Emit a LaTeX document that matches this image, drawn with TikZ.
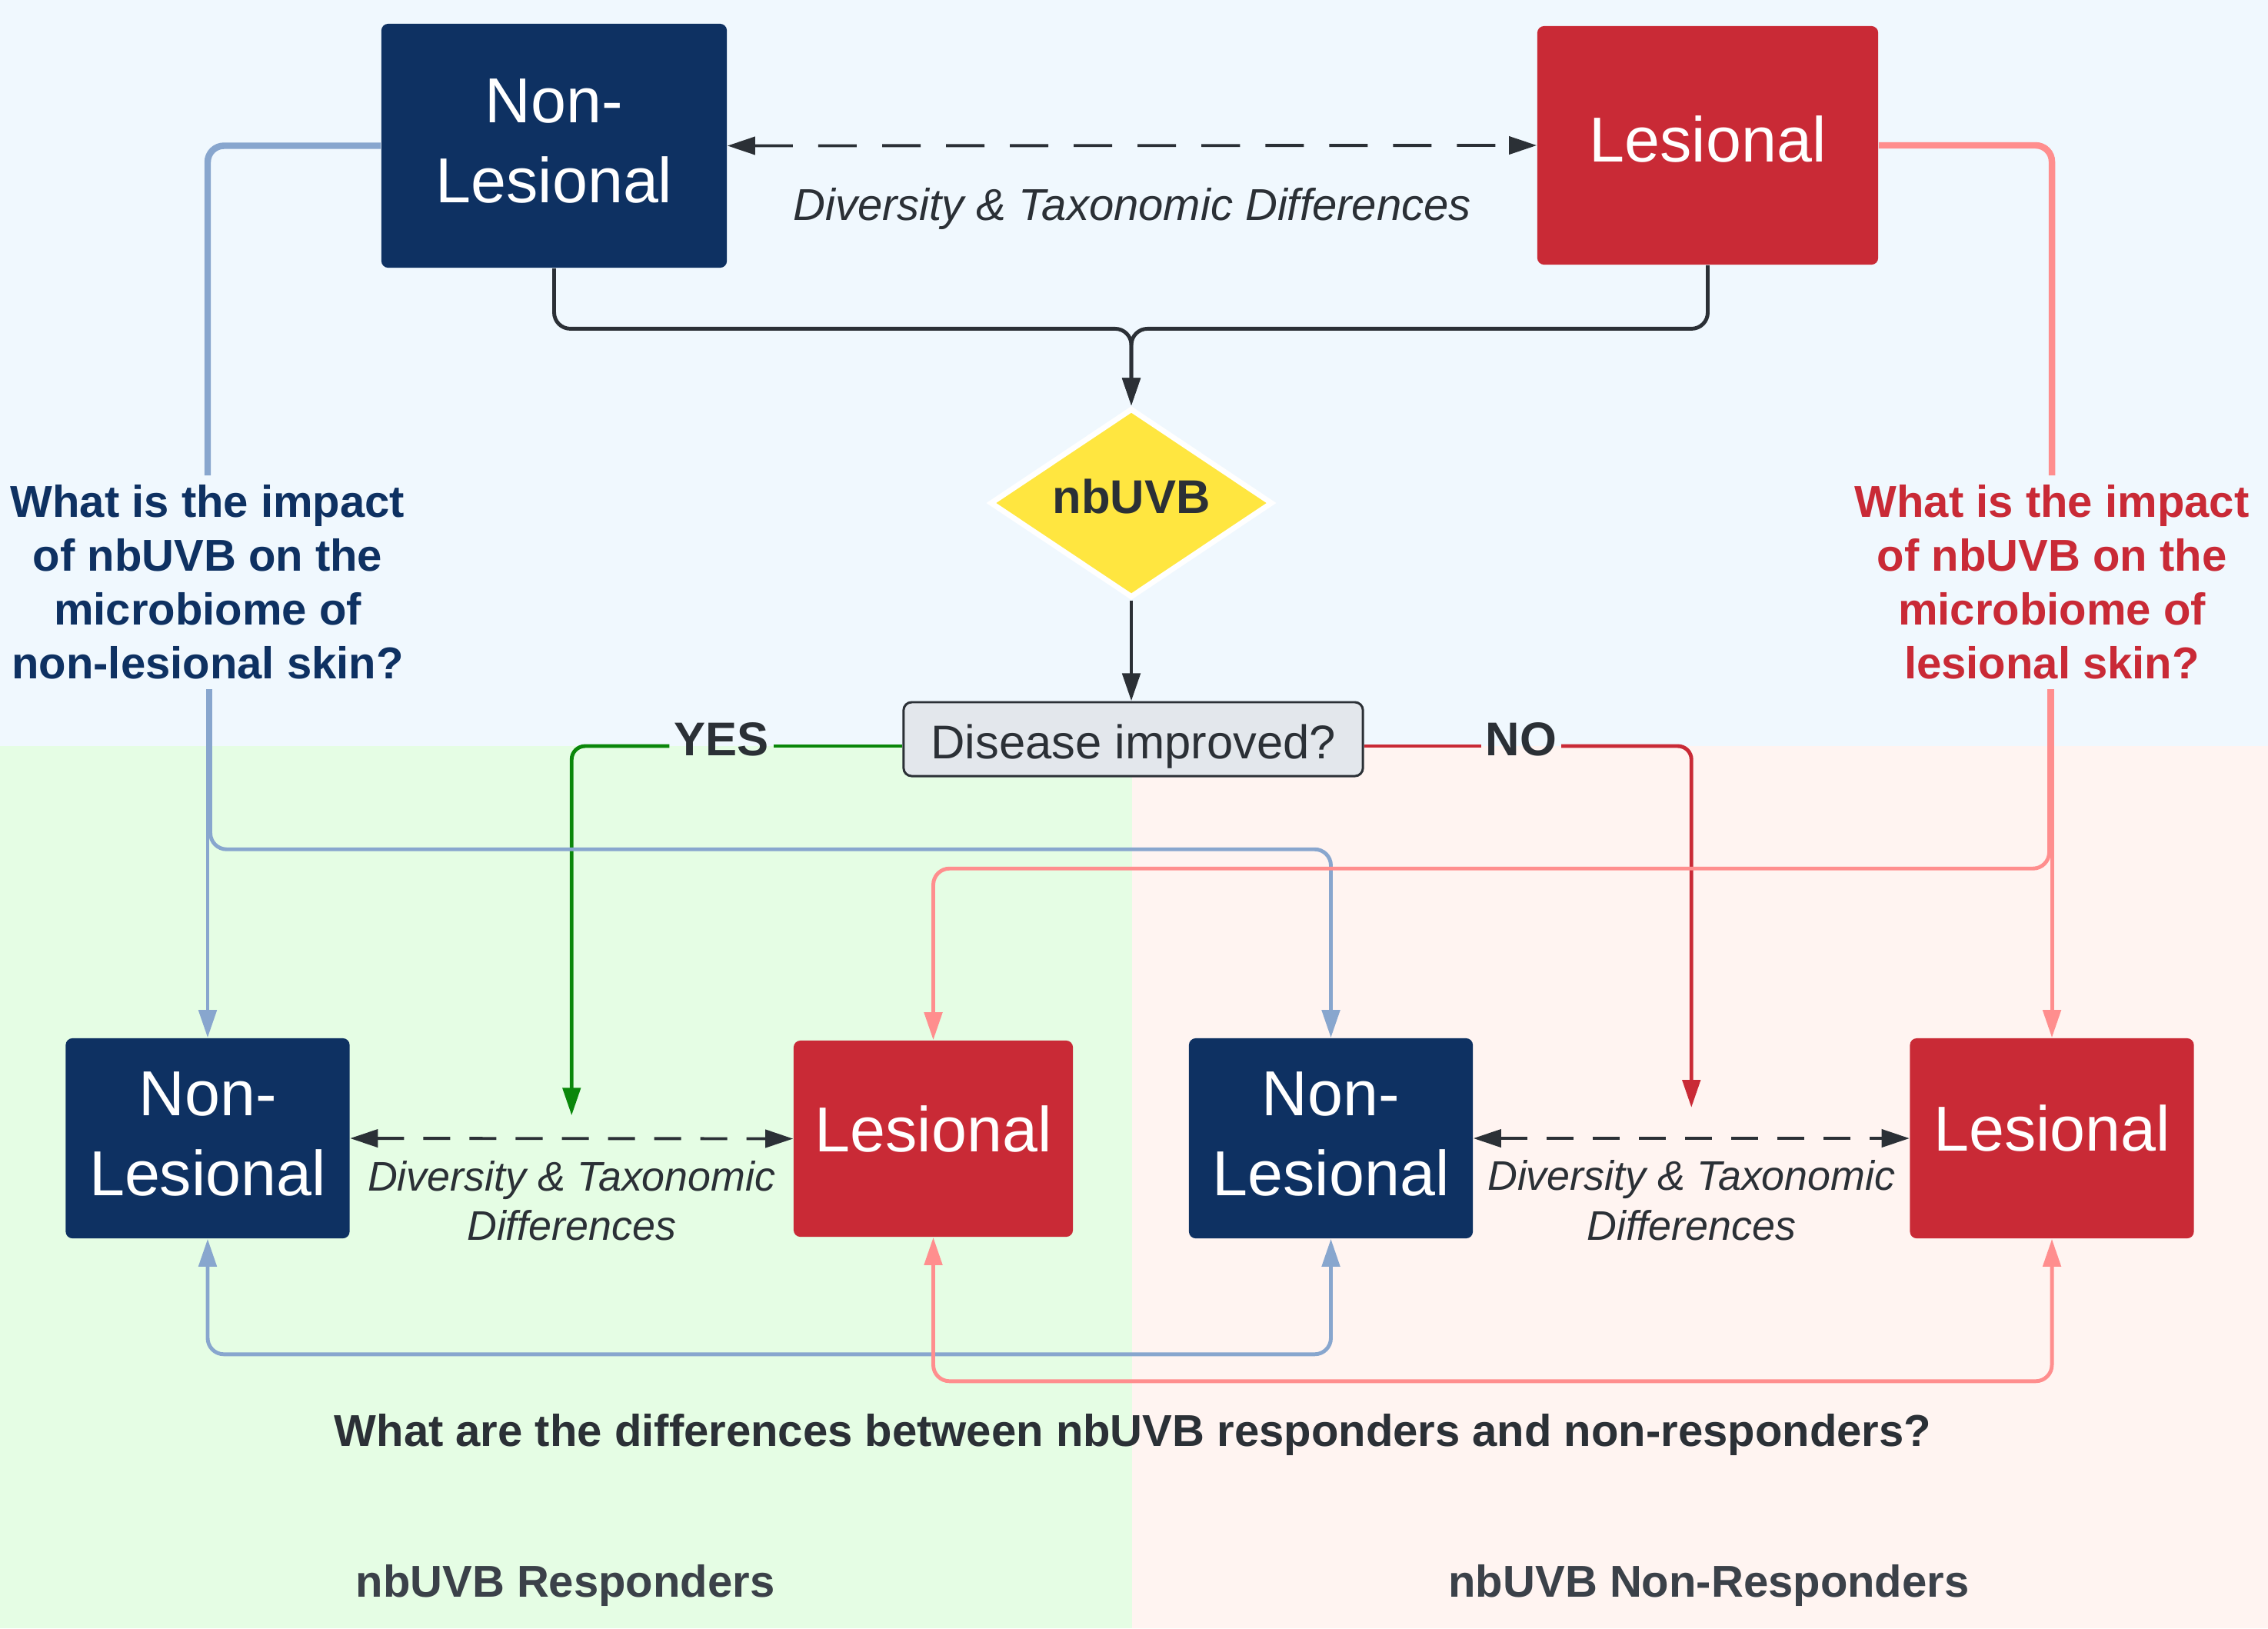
\documentclass[tikz,border=0pt]{standalone}
\usepackage{fontspec}
\setmainfont{Liberation Sans}
\usetikzlibrary{arrows.meta,positioning,calc,shapes.geometric}

\definecolor{bgtop}{HTML}{F0F8FE}
\definecolor{bgyes}{HTML}{E5FDE4}
\definecolor{bgno}{HTML}{FFF4F1}
\definecolor{navy}{HTML}{0E3162}
\definecolor{lesred}{HTML}{C92A36}
\definecolor{paleblue}{HTML}{88A6CE}
\definecolor{palered}{HTML}{FF8E8E}
\definecolor{yesgreen}{HTML}{0A870A}
\definecolor{ink}{HTML}{2B3036}
\definecolor{inkgray}{HTML}{3B4149}
\definecolor{qfill}{HTML}{E3E7EC}
\definecolor{sun}{HTML}{FFE640}

\begin{document}
\begin{tikzpicture}[x=0.01cm,y=-0.01cm,>={Triangle[length=0.36cm,width=0.23cm]},
    box/.style={rectangle,rounded corners=2.5pt,text=white,align=center,inner sep=0pt,
      text depth=3.5pt,font=\fontsize{23.5}{29.5}\selectfont},
    nlbox/.style={box,fill=navy},
    lbox/.style={box,fill=lesred},
    small/.style={minimum width=3.69cm,minimum height=2.6cm},
    uvb/.style={diamond,aspect=1.5,fill=sun,draw=white,line width=2pt,minimum width=3.67cm,
      minimum height=2.46cm,inner sep=0pt,text=ink,text depth=5pt,
      font=\bfseries\fontsize{17.5}{21}\selectfont},
    askbox/.style={rectangle,rounded corners=3pt,fill=qfill,draw=ink,line width=0.85pt,
      minimum width=5.97cm,minimum height=0.96cm,text=ink,text height=14.3pt,text depth=0pt,
      font=\fontsize{17.5}{21}\selectfont},
    question/.style={align=center,fill=bgtop,inner xsep=2pt,inner ysep=0.12cm,
      font=\bfseries\fontsize{16.5}{19.9}\selectfont},
    branch/.style={text=ink,inner sep=1.5pt,text height=12.5pt,text depth=5.6pt,
      font=\bfseries\fontsize{17.5}{21}\selectfont},
    diff/.style={text=ink,inner sep=0pt,align=center,font=\itshape\fontsize{16.5}{20}\selectfont},
    difflow/.style={diff,font=\itshape\fontsize{15.3}{18.4}\selectfont},
    caption/.style={text=ink,inner sep=0pt,font=\bfseries\fontsize{16.5}{20}\selectfont},
    group/.style={caption,text=inkgray},
    flow/.style={draw=ink,line width=1.4pt,rounded corners=6pt},
    topdash/.style={draw=ink,line width=1.1pt,dash pattern=on 0.5cm off 0.33cm},
    lowdash/.style={draw=ink,line width=1.1pt,dash pattern=on 0.35cm off 0.25cm},
    yesline/.style={draw=yesgreen,line width=1.4pt,rounded corners=5pt},
    noline/.style={draw=lesred,line width=1.4pt,rounded corners=5pt},
    blueline/.style={draw=paleblue,line width=1.4pt,rounded corners=6pt},
    pinkline/.style={draw=palered,line width=1.4pt,rounded corners=6pt}]

    % backgrounds
    \fill[bgtop] (0,0) rectangle (2949,970);
    \fill[bgyes] (0,970) rectangle (1472,2117);
    \fill[bgno] (1472,970) rectangle (2949,2117);

    % top row
    \node[nlbox,minimum width=4.49cm,minimum height=3.17cm] (ntop) at (720.5,189.5) {Non-\\Lesional};
    \node[lbox,minimum width=4.43cm,minimum height=3.1cm,text depth=4.8pt] (ltop) at (2220.5,189) {Lesional};
    \node[uvb]    (uvb) at (1471,654) {nbUVB};
    \node[askbox] (ask) at (1473.5,961) {Disease improved?};

    \node[question,text=navy]   (qnl) at (270,757) {What is the impact\\of nbUVB on the\\microbiome of\\non-lesional skin?};
    \node[question,text=lesred] (ql)  at (2668,757) {What is the impact\\of nbUVB on the\\microbiome of\\lesional skin?};

    % bottom row
    \node[nlbox,small] (nl1) at (270,1480) {Non-\\Lesional};
    \node[lbox,small,minimum width=3.63cm,minimum height=2.55cm,text depth=7.4pt] (l1) at (1213.5,1480.5) {Lesional};
    \node[nlbox,small] (nl2) at (1730.5,1480) {Non-\\Lesional};
    \node[lbox,small,text depth=7.4pt] (l2) at (2668,1480) {Lesional};

    \node[branch] (yes) at (938,970) {YES};
    \node[branch] (no)  at (1978,970) {NO};
    \coordinate (yesend) at ($(nl1.east)!0.5!(l1.west)+(0,-30)$);
    \coordinate (noend)  at ($(nl2.east)!0.5!(l2.west)+(0,-40)$);

    \node[caption,anchor=base] (qdiff) at (1473,1880) {What are the differences between nbUVB responders and non-responders?};
    \node[group,anchor=base] (gyes) at (735,2076) {nbUVB Responders};
    \node[group,anchor=base] (gno)  at (2222,2076) {nbUVB Non-Responders};

    % treatment
    \draw[flow,->] (ntop.south) |- ($(uvb.north)+(0,-100)$) -- (uvb.north);
    \draw[flow,->] (ltop.south) |- ($(uvb.north)+(0,-100)$) -- (uvb.north);
    \draw[flow,->] (uvb.south) -- (uvb.south |- ask.north);

    \path[<->]
    (ntop.east) edge[topdash] node[below=0.53cm,diff] {Diversity \& Taxonomic Differences} (ltop.west)
    (nl1.east)  edge[lowdash] node[below=0.27cm,difflow] {Diversity \& Taxonomic\\Differences} (l1.west)
    (nl2.east)  edge[lowdash] node[below=0.27cm,difflow] {Diversity \& Taxonomic\\Differences} (l2.west)
    ;

    \draw[yesline] (yes.east) -- (yes.east -| ask.west);
    \draw[yesline,->] (yes.west) -| (yesend);
    \draw[noline] (no.west) -- (no.west -| ask.east);
    \draw[noline,->] (no.east) -| (noend);

    % non-lesional skin
    \draw[blueline,line width=2.4pt] (ntop.west) -| (qnl.north);
    \draw[blueline,->] (qnl.south) -- (nl1.north);
    \draw[blueline,->] ([xshift=1pt]qnl.south) |- ($(nl2.north)+(0,-245)$) -- (nl2.north);
    \draw[blueline,<->] (nl1.south) -- ++(0,150) -| (nl2.south);

    % lesional skin
    \draw[pinkline,line width=2.4pt] (ltop.east) -| (ql.north);
    \draw[pinkline,->] (ql.south) -- (l2.north);
    \draw[pinkline,->] ([xshift=-1pt]ql.south) |- ($(l1.north)+(0,-223)$) -- (l1.north);
    \draw[pinkline,<->] (l1.south) -- ++(0,187) -| (l2.south);
\end{tikzpicture}
\end{document}
